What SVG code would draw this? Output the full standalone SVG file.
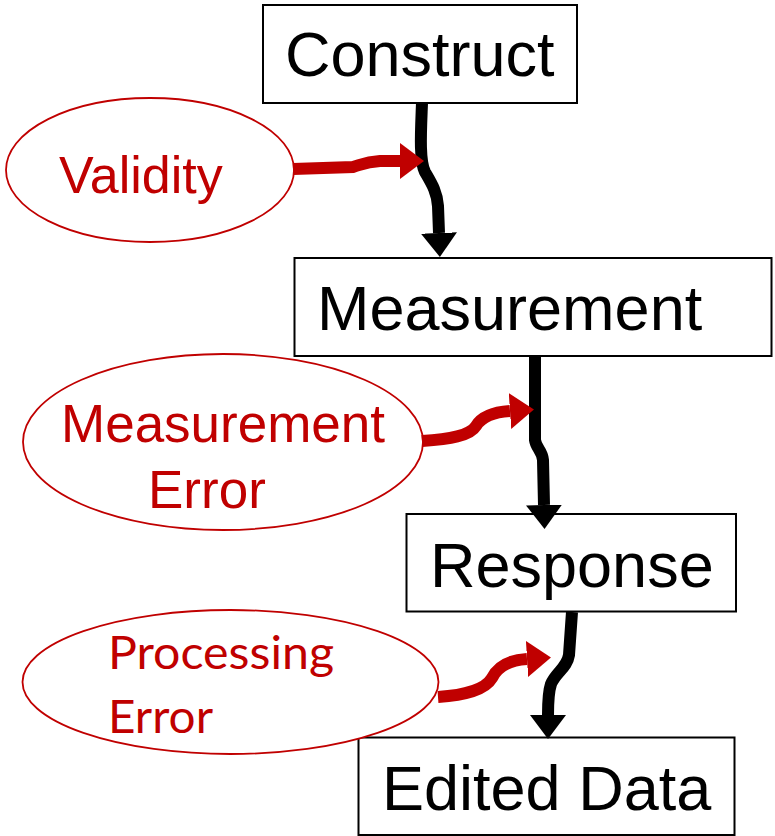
<svg xmlns="http://www.w3.org/2000/svg" width="775" height="836" viewBox="0 0 775 836">
<style>
.box{fill:#fff;stroke:#000;stroke-width:2}
.ell{fill:#fff;stroke:#C00000;stroke-width:1.8}
.bt{font-family:"Liberation Sans",Arial,sans-serif;font-size:63px;fill:#000}
.rt{font-family:"Liberation Sans",Arial,sans-serif;font-size:53px;fill:#C00000}
.ct{font-family:Lato,"Open Sans",sans-serif;font-size:46px;fill:#C00000}
.blk{fill:none;stroke:#000;stroke-width:12;marker-end:url(#hb)}
.red{fill:none;stroke:#C00000;stroke-width:12;marker-end:url(#hr)}
</style>
<defs>
<marker id="hb" markerUnits="userSpaceOnUse" markerWidth="24" markerHeight="36" viewBox="0 0 24 36" refX="0" refY="18" orient="auto"><path d="M0,0 L24,18 L0,36 Z" fill="#000"/></marker>
<marker id="hr" markerUnits="userSpaceOnUse" markerWidth="24" markerHeight="36" viewBox="0 0 24 36" refX="0" refY="18" orient="auto"><path d="M0,0 L24,18 L0,36 Z" fill="#C00000"/></marker>
</defs>
<rect width="775" height="836" fill="#fff"/>
<g id="construct"><rect class="box" x="263" y="5" width="314" height="98"/><text class="bt" x="285" y="76">Construct</text></g>
<g id="measurement"><rect class="box" x="294.5" y="258" width="477" height="98"/><text class="bt" x="317" y="330">Measurement</text></g>
<g id="response"><rect class="box" x="406.5" y="514" width="329.5" height="97.5"/><text class="bt" x="430" y="587">Response</text></g>
<g id="edited-data"><rect class="box" x="358.5" y="737.5" width="376" height="97.5"/><text class="bt" x="382" y="810">Edited Data</text></g>
<g id="validity"><ellipse class="ell" cx="150" cy="170" rx="144" ry="72"/><text class="rt" x="59" y="193" style="font-size:52px">Validity</text></g>
<g id="measurement-error"><ellipse class="ell" cx="223" cy="442" rx="200" ry="88"/><text class="rt" x="61" y="442">Measurement</text><text class="rt" x="148" y="508">Error</text></g>
<g id="processing-error"><ellipse class="ell" cx="230.5" cy="682" rx="208" ry="72"/><text class="ct" x="108" y="669" textLength="226" lengthAdjust="spacingAndGlyphs">Processing</text><text class="ct" x="108" y="733" textLength="105" lengthAdjust="spacingAndGlyphs">Error</text></g>
<g id="connectors">
<path class="blk" d="M422,103 C421,130 419,160 425,172 C432,184 437,192 438,206 L439,233"/>
<path class="blk" d="M535,355 L535,440 C536,448 542,450 543,460 L544,505"/>
<path class="blk" d="M572,612 L569,655 C567,668 556,672 551,684 C549,690 548,700 548,715"/>
<path class="red" d="M293,169 L353,167 C363,164 366,162 380,161 L400,161"/>
<path class="red" d="M422,441 C450,439 470,436 476,426 C482,416 495,412 510,411"/>
<path class="red" d="M438,697 C465,695 485,690 492,678 C498,666 510,660 527,659"/>
</g>
</svg>
